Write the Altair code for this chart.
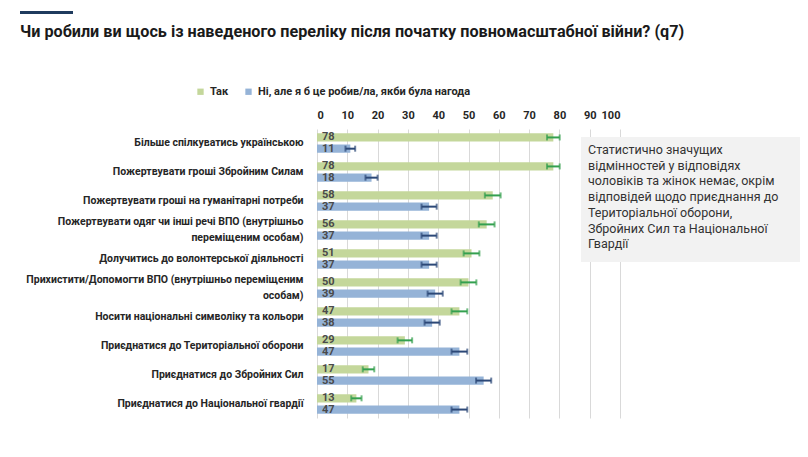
import altair as alt
import pandas as pd

categories = [
    "Більше спілкуватись українською",
    "Пожертвувати гроші Збройним Силам",
    "Пожертвувати гроші на гуманітарні потреби",
    "Пожертвувати одяг чи інші речі ВПО (внутрішньо|переміщеним особам)",
    "Долучитись до волонтерської діяльності",
    "Прихистити/Допомогти ВПО (внутрішньо переміщеним|особам)",
    "Носити національні символіку та кольори",
    "Приєднатися до Територіальної оборони",
    "Приєднатися до Збройних Сил",
    "Приєднатися до Національної гвардії",
]
yes_values = [78, 78, 58, 56, 51, 50, 47, 29, 17, 13]
no_values = [11, 18, 37, 37, 37, 39, 38, 47, 55, 47]
yes_err = [2.1, 2.1, 2.6, 2.6, 2.6, 2.6, 2.6, 2.4, 1.9, 1.7]
no_err = [1.6, 2.0, 2.5, 2.5, 2.5, 2.5, 2.5, 2.6, 2.5, 2.6]
series_names = ["Так", "Ні, але я б це робив/ла, якби була нагода"]
x_ticks = [0, 10, 20, 30, 40, 50, 60, 70, 80, 90, 100]
title_text = "Чи робили ви щось із наведеного переліку після початку повномасштабної війни? (q7)"
note_lines = [
    "Статистично значущих",
    "відмінностей у відповідях",
    "чоловіків та жінок немає, окрім",
    "відповідей щодо приєднання до",
    "Територіальної оборони,",
    "Збройних Сил та Національної",
    "Гвардії",
]

rows = []
for i, c in enumerate(categories):
    rows.append(dict(cat=c, series=series_names[0], value=yes_values[i],
                     lo=yes_values[i] - yes_err[i], hi=yes_values[i] + yes_err[i]))
    rows.append(dict(cat=c, series=series_names[1], value=no_values[i],
                     lo=no_values[i] - no_err[i], hi=no_values[i] + no_err[i]))
df = pd.DataFrame(rows)

FONT = "Roboto"
GREEN = "#c4d79b"
BLUE = "#95b3d7"
GREEN_ERR = "#34a04f"
BLUE_ERR = "#2c4877"

x_scale = alt.Scale(domain=[0, 100], nice=False)
x_axis = alt.Axis(orient="top", values=x_ticks, tickCount=11, title=None, domain=False, ticks=False,
                  grid=True, gridColor="#d9d9d9", gridWidth=1, labelPadding=9,
                  labelOverlap=False, labelFont=FONT, labelFontWeight="bold",
                  labelFontSize=11, labelColor="#262626")
y_enc = alt.Y(
    "cat:N", sort=categories,
    scale=alt.Scale(paddingInner=0.33, paddingOuter=0.15),
    axis=alt.Axis(title=None, labelExpr="split(datum.label, '|')", domain=False, ticks=False,
                  labelPadding=14, labelFont=FONT, labelFontWeight="bold", labelFontSize=10.5,
                  labelColor="#262626", labelLineHeight=16, labelLimit=300,
                  labelOffset={"condition": {"test": "indexof(datum.label, '|') >= 0", "value": -8},
                               "value": 0}),
)
yoff = alt.YOffset("series:N", sort=series_names,
                   scale=alt.Scale(paddingInner=0.27, paddingOuter=0))

base = alt.Chart(df)

bars = base.mark_bar().encode(
    x=alt.X("value:Q", scale=x_scale, axis=x_axis),
    y=y_enc,
    yOffset=yoff,
    color=alt.Color("series:N", sort=series_names,
                    scale=alt.Scale(domain=series_names, range=[GREEN, BLUE]),
                    legend=alt.Legend(orient="none", legendX=-122, legendY=-43, direction="horizontal",
                                      title=None, symbolType="square", symbolSize=40,
                                      symbolStrokeWidth=0, labelFont=FONT, labelFontWeight="bold",
                                      labelFontSize=11, labelColor="#262626", columnPadding=14,
                                      labelLimit=400)),
)

labels = base.mark_text(align="left", baseline="middle", dx=5, font=FONT, fontWeight="bold",
                        fontSize=11, color="#4a4a4a").encode(
    x=alt.XDatum(0, type="quantitative", scale=x_scale, axis=x_axis),
    y=y_enc, yOffset=yoff, text=alt.Text("value:Q"))

def err_layers(name, color):
    sub = base.transform_filter(alt.datum.series == name)
    rule = sub.mark_rule(color=color, strokeWidth=2).encode(
        x=alt.X("lo:Q", scale=x_scale, axis=x_axis), x2="hi:Q", y=y_enc, yOffset=yoff)
    cap_lo = sub.mark_tick(color=color, thickness=2, size=6).encode(
        x=alt.X("lo:Q", scale=x_scale, axis=x_axis), y=y_enc, yOffset=yoff)
    cap_hi = sub.mark_tick(color=color, thickness=2, size=6).encode(
        x=alt.X("hi:Q", scale=x_scale, axis=x_axis), y=y_enc, yOffset=yoff)
    return [rule, cap_lo, cap_hi]

one = pd.DataFrame({"t": [title_text]})
title = alt.Chart(one).mark_text(align="left", baseline="middle", font=FONT, fontWeight="bold",
                                 fontSize=16.2, color="#1a1a1a").encode(
    text="t:N", x=alt.value(-297), y=alt.value(-97))
title_bar = alt.Chart(one).mark_rect(color="#1f3b5e").encode(
    x=alt.value(-297), x2=alt.value(-244), y=alt.value(-118), y2=alt.value(-115))

note_df = pd.DataFrame({"t": ["note"]})
note_box = alt.Chart(note_df).mark_rect(color="#f2f2f2").encode(
    x=alt.value(264), x2=alt.value(483), y=alt.value(8), y2=alt.value(133))
note_text = alt.Chart(note_df).mark_text(align="left", baseline="top", font=FONT, fontSize=12.5,
                                         lineHeight=15.7, color="#333333").encode(
    text=alt.value(note_lines), x=alt.value(271), y=alt.value(15))

chart = alt.layer(
    bars, *err_layers(series_names[0], GREEN_ERR), *err_layers(series_names[1], BLUE_ERR),
    labels, note_box, note_text, title_bar, title,
).properties(
    width=303, height=289,
    autosize=alt.AutoSizeParams(type="none"),
    padding={"left": 309, "top": 121, "right": 180, "bottom": 31},
).configure_view(stroke=None)

chart.save("out.html", embed_options={"renderer": "svg", "actions": False})
